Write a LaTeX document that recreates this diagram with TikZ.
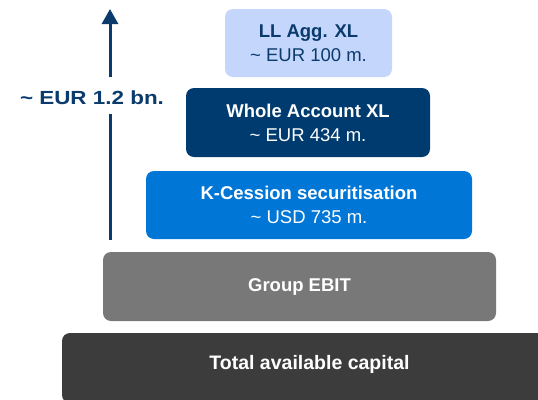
\documentclass[tikz,border=0pt]{standalone}
\usepackage{fontspec}
\setmainfont{Liberation Sans}
\newfontfamily\widefont[FakeStretch=1.18]{Liberation Sans}
\usetikzlibrary{arrows.meta}
\definecolor{navy}{HTML}{0A3B6C}
\definecolor{lightblue}{HTML}{C4D6FB}
\definecolor{darkblue}{HTML}{003B6F}
\definecolor{midblue}{HTML}{0076D6}
\definecolor{midgray}{HTML}{787878}
\definecolor{darkgray}{HTML}{3C3C3C}
\tikzset{
  tier/.style={rounded corners=8pt, inner sep=0pt, align=center,
    font=\fontsize{18.5}{24}\selectfont, text=white},
  axis/.style={draw=navy, line width=3pt},
}
\newcommand{\tl}{\textasciitilde{} }
\begin{document}
\begin{tikzpicture}[x=1pt,y=-1pt]
\useasboundingbox (0,0) rectangle (538,399);
\begin{scope}
\clip (0,0) rectangle (538,399);
\node[tier, fill=darkgray, minimum width=494pt, minimum height=70pt] (total) at (309,368) {};
\node[font=\fontsize{19.5}{24}\selectfont\bfseries, text=white] (totaltxt) at (309.5,364) {Total available capital};
\end{scope}
\node[tier, fill=midgray, minimum width=393pt, minimum height=69pt] (ebit) at (299.5,286.5) {\textbf{Group EBIT}};
\node[tier, fill=midblue, minimum width=326pt, minimum height=68pt] (kcess) at (309,205) {\textbf{K-Cession securitisation}\\\tl USD 735 m.};
\node[tier, fill=darkblue, minimum width=244pt, minimum height=69pt] (whole) at (308,122.5) {\textbf{Whole Account XL}\\\tl EUR 434 m.};
\node[tier, fill=lightblue, text=navy, minimum width=167pt, minimum height=68pt] (llagg) at (308.5,43) {\textbf{LL Agg. XL}\\\tl EUR 100 m.};
\node[font=\widefont\fontsize{19}{24}\selectfont\bfseries, text=navy, inner sep=0pt] (lbl) at (92,98) {\tl EUR 1.2 bn.};
\coordinate (abot) at (110,240);
\coordinate (gapbot) at (110,114);
\coordinate (gaptop) at (110,77);
\coordinate (atop) at (110,9);
\draw[axis] (abot) -- (gapbot);
\draw[axis, -{Triangle[width=16pt,length=15pt]}] (gaptop) -- (atop);
\end{tikzpicture}
\end{document}
